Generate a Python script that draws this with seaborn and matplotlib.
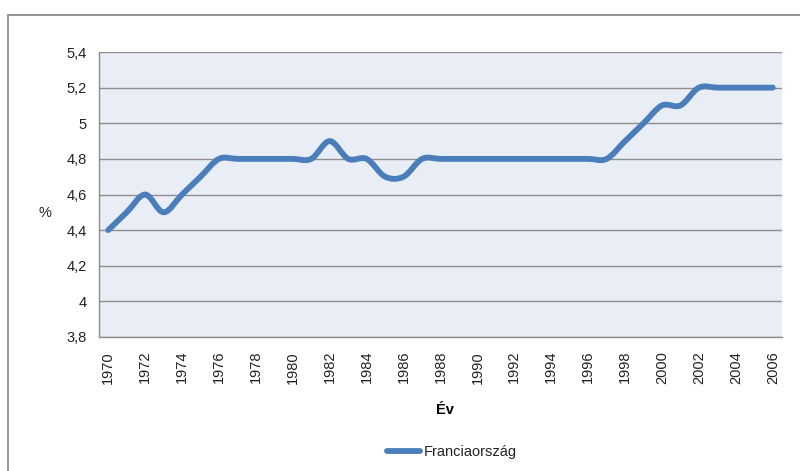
import numpy as np
import pandas as pd
import matplotlib
matplotlib.use("Agg")
import matplotlib.pyplot as plt
import seaborn as sns
from matplotlib.path import Path
from matplotlib.patches import PathPatch, Rectangle
from matplotlib.lines import Line2D

years = list(range(1970, 2007))
values = [4.4, 4.5, 4.6, 4.5, 4.6, 4.7, 4.8, 4.8, 4.8, 4.8,
          4.8, 4.8, 4.9, 4.8, 4.8, 4.7, 4.7, 4.8, 4.8, 4.8,
          4.8, 4.8, 4.8, 4.8, 4.8, 4.8, 4.8, 4.8, 4.9, 5.0,
          5.1, 5.1, 5.2, 5.2, 5.2, 5.2, 5.2]
series_name = "Franciaország"
y_ticks = [3.8, 4.0, 4.2, 4.4, 4.6, 4.8, 5.0, 5.2, 5.4]
y_labels = ["3,8", "4", "4,2", "4,4", "4,6", "4,8", "5", "5,2", "5,4"]

sns.set_style("white")
plt.rcParams['font.family'] = ['Liberation Sans', 'DejaVu Sans']

line_color = "#4A7EBB"
bg = "#E9EDF5"
text_color = "#222222"

df = pd.DataFrame({"pos": np.arange(len(years)), "val": values})

fig = plt.figure(figsize=(8, 4.71), dpi=100)
ax = fig.add_axes([99/800, 1 - 337/471, (782-99)/800, (337-52)/471])
ax.set_facecolor(bg)

# outer chart border
fig.patches.append(Rectangle((8/800, -0.1), 1.2, 1 - 15/471 + 0.1, transform=fig.transFigure,
                             fill=False, edgecolor="#8C8C8C", linewidth=1.3))

# seaborn line (invisible; smooth version drawn below from same data)
sns.lineplot(data=df, x="pos", y="val", ax=ax, color=line_color, linewidth=0, legend=False)

# smooth (Excel-like) curve through data points via Bezier path
x = df["pos"].to_numpy(dtype=float)
y = df["val"].to_numpy(dtype=float)
verts = [(x[0], y[0])]
codes = [Path.MOVETO]
n = len(x)
for i in range(n - 1):
    p0 = np.array([x[max(i-1, 0)], y[max(i-1, 0)]])
    p1 = np.array([x[i], y[i]])
    p2 = np.array([x[i+1], y[i+1]])
    p3 = np.array([x[min(i+2, n-1)], y[min(i+2, n-1)]])
    c1 = p1 + (p2 - p0) / 6
    c2 = p2 - (p3 - p1) / 6
    verts += [tuple(c1), tuple(c2), tuple(p2)]
    codes += [Path.CURVE4] * 3
ax.add_patch(PathPatch(Path(verts, codes), fill=False, edgecolor=line_color,
                       linewidth=4.2, capstyle="round", joinstyle="round", zorder=3))

ax.set_xlim(-0.5, n - 0.5)
ax.set_ylim(3.8, 5.4)
ax.set_yticks(y_ticks)
ax.set_yticklabels(y_labels, fontsize=10.5, color=text_color)
ax.yaxis.grid(True, color="#8E8E8E", linewidth=1.0)
ax.set_axisbelow(True)

ax.set_xticks(np.arange(0, n, 2))
ax.set_xticklabels([str(v) for v in years[::2]], rotation=90, fontsize=10.5, color=text_color)
ax.set_xticks(np.arange(-0.5, n, 1), minor=True)
ax.tick_params(axis="x", which="major", length=0, pad=10)
ax.tick_params(axis="x", which="minor", length=5, color="#8E8E8E", width=1)
ax.tick_params(axis="y", length=5, color="#8E8E8E", width=1, pad=4)

for s in ["top", "right"]:
    ax.spines[s].set_visible(False)
for s in ["left", "bottom"]:
    ax.spines[s].set_color("#8E8E8E")
    ax.spines[s].set_linewidth(1)

ax.set_xlabel("")
ax.set_ylabel("")
fig.text(45/800, 1 - 213/471, "%", fontsize=10.5, ha="center", va="center", color=text_color)
fig.text(445/800, 1 - 410/471, "Év", fontsize=10.5, fontweight="bold", ha="center", va="center",
         color="#000000")

handle = Line2D([], [], color=line_color, linewidth=4.2, solid_capstyle="round")
leg = fig.legend([handle], [series_name], loc="center", bbox_to_anchor=(452/800, 1 - 452/471),
                 frameon=False, fontsize=10.5, handlelength=2.3, handletextpad=0.25)
for t in leg.get_texts():
    t.set_color(text_color)

fig.savefig("out.png", dpi=100)
